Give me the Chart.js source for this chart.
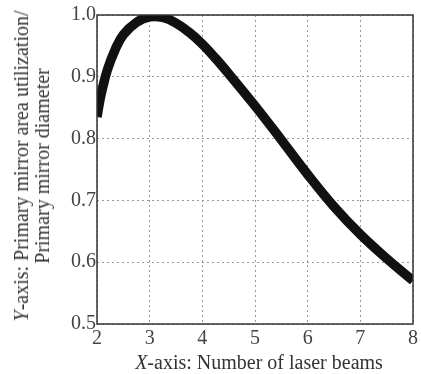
<!DOCTYPE html>
<html>
<head>
<meta charset="utf-8">
<script src="https://cdn.jsdelivr.net/npm/chart.js@4/dist/chart.umd.min.js"></script>
<style>
  html, body { margin: 0; padding: 0; background: #fff; }
  #wrap { position: relative; width: 421px; height: 374px; overflow: hidden; }
  #chart { position: absolute; left: 0; top: 0; }
  .title { position: absolute; font-family: "Liberation Serif", "DejaVu Serif", serif; color: #333; white-space: nowrap; }
  #ytitle { left: 32px; top: 166px; font-size: 20px; line-height: 21px; text-align: center;
            transform: translate(-50%, -50%) rotate(-90deg); }
  #xtitle { left: 259px; top: 362px; font-size: 20px; transform: translate(-50%, -50%); }
</style>
</head>
<body>
<div id="wrap">
  <canvas id="chart" width="421" height="374"></canvas>
  <div id="ytitle" class="title"><i>Y</i>-axis: Primary mirror area utilization/<br>Primary mirror diameter</div>
  <div id="xtitle" class="title"><i>X</i>-axis: Number of laser beams</div>
</div>
<script>
// -----------------------------
// Data
// -----------------------------
const beamCounts = [2.0, 2.05, 2.1, 2.2, 2.35, 2.5, 2.75, 3.0, 3.25, 3.5, 3.75, 4.0, 4.25, 4.5, 5.0, 5.5, 6.0, 6.5, 7.0, 7.5, 8.0];
const utilization = [0.835, 0.86, 0.88, 0.912, 0.945, 0.968, 0.988, 0.997, 0.996, 0.987, 0.972, 0.953, 0.93, 0.905, 0.853, 0.798, 0.742, 0.69, 0.645, 0.606, 0.57];
const xTicks = [2, 3, 4, 5, 6, 7, 8];
const yTicks = [0.5, 0.6, 0.7, 0.8, 0.9, 1.0];

const serif = "'Liberation Serif', 'DejaVu Serif', serif";

// frame around the plot area
const boxPlugin = {
    id: "box",
    afterDraw(chart) {
        const { ctx, chartArea: a } = chart;
        ctx.save();
        ctx.strokeStyle = "#333";
        ctx.lineWidth = 1.5;
        ctx.strokeRect(a.left, a.top, a.right - a.left, a.bottom - a.top);
        ctx.restore();
    }
};

new Chart(document.getElementById("chart"), {
    type: "scatter",
    data: {
        datasets: [{
            data: beamCounts.map((x, i) => ({ x: x, y: utilization[i] })),
            showLine: true,
            borderColor: "#111",
            borderWidth: 9.5,
            pointRadius: 0,
            tension: 0.4
        }]
    },
    options: {
        responsive: false,
        animation: false,
        layout: { padding: { top: 15, right: 5, left: 0, bottom: 0 } },
        plugins: { legend: { display: false }, tooltip: { enabled: false } },
        scales: {
            x: {
                type: "linear",
                min: 2, max: 8,
                afterBuildTicks: s => { s.ticks = xTicks.map(v => ({ value: v })); },
                afterFit: s => { s.height = 50; },
                grid: { color: "#999", drawTicks: false },
                border: { display: false, dash: [2, 3] },
                ticks: { color: "#444", padding: 3, font: { family: serif, size: 20 } }
            },
            y: {
                min: 0.5, max: 1.0,
                afterBuildTicks: s => { s.ticks = yTicks.map(v => ({ value: v })); },
                afterFit: s => { s.width = 97; },
                grid: { color: "#999", drawTicks: false },
                border: { display: false, dash: [2, 3] },
                ticks: {
                    color: "#444", padding: 1, font: { family: serif, size: 20 },
                    callback: v => v.toFixed(1)
                }
            }
        }
    },
    plugins: [boxPlugin]
});
</script>
</body>
</html>
